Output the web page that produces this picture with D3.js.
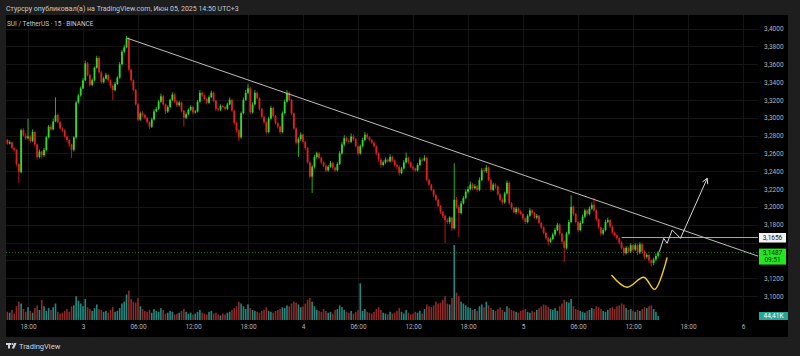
<!DOCTYPE html>
<html><head><meta charset="utf-8">
<script src="https://cdn.jsdelivr.net/npm/d3@7"></script>
<style>
html,body{margin:0;padding:0;background:#1e1e1e;}
svg{display:block;font-family:Roboto,"Liberation Sans",sans-serif;}
</style></head><body>
<svg id="c" width="800" height="356"></svg>
<script>
// ---- data (15-min candles, SUI/USDT, times in UTC+3 wall clock) ----
const firstBarTime = "2025-06-02T15:30:00Z";
const firstOpen = 3.2504;
const closes = [
3.2750,3.2710,3.2725,3.2660,3.2640,3.2480,3.2390,3.2860,3.2800,3.2770,
3.2790,3.2740,3.2840,3.2700,3.2560,3.2620,3.2580,3.2640,3.2780,3.2900,
3.2870,3.2960,3.3030,3.2950,3.2880,3.2860,3.2790,3.2750,3.2700,3.2640,
3.2780,3.3170,3.3250,3.3330,3.3420,3.3610,3.3480,3.3370,3.3420,3.3560,
3.3670,3.3510,3.3400,3.3440,3.3480,3.3420,3.3360,3.3310,3.3380,3.3450,
3.3600,3.3740,3.3790,3.3890,3.3540,3.3420,3.3310,3.3150,3.2980,3.3050,
3.3030,3.3000,3.2950,3.2900,3.2980,3.3070,3.3100,3.3180,3.3240,3.3150,
3.3070,3.3120,3.3200,3.3260,3.3180,3.3140,3.3170,3.3080,3.3000,3.3040,
3.3090,3.3120,3.3060,3.3070,3.3180,3.3280,3.3250,3.3210,3.3170,3.3230,
3.3280,3.3190,3.3100,3.3090,3.3130,3.3120,3.3100,3.3150,3.3200,3.3080,
3.2940,3.2860,3.2780,3.3050,3.3200,3.3280,3.3330,3.3060,3.3150,3.3280,
3.3220,3.3100,3.3010,3.2950,3.2840,3.2990,3.3110,3.3020,3.2940,3.2900,
3.2840,3.3050,3.3180,3.3280,3.3200,3.3050,3.2880,3.2720,3.2760,3.2810,
3.2730,3.2660,3.2500,3.2340,3.2450,3.2560,3.2600,3.2550,3.2500,3.2460,
3.2410,3.2450,3.2490,3.2440,3.2410,3.2480,3.2600,3.2700,3.2770,3.2740,
3.2730,3.2790,3.2760,3.2680,3.2600,3.2680,3.2750,3.2810,3.2780,3.2750,
3.2720,3.2680,3.2600,3.2530,3.2470,3.2500,3.2530,3.2510,3.2560,3.2520,
3.2470,3.2450,3.2380,3.2430,3.2500,3.2550,3.2500,3.2450,3.2430,3.2410,
3.2470,3.2530,3.2520,3.2550,3.2300,3.2250,3.2190,3.2130,3.2080,3.2010,
3.1940,3.1900,3.1850,3.1830,3.1880,3.1760,3.2080,3.2000,3.1930,3.2040,
3.2100,3.2170,3.2200,3.2250,3.2210,3.2230,3.2190,3.2300,3.2410,3.2400,
3.2440,3.2300,3.2190,3.2250,3.2230,3.2140,3.2080,3.2050,3.2150,3.2270,
3.2040,3.1990,3.1940,3.1980,3.1950,3.1920,3.1870,3.1830,3.1900,3.1960,
3.1930,3.1880,3.1900,3.1820,3.1770,3.1710,3.1650,3.1610,3.1640,3.1690,
3.1740,3.1800,3.1700,3.1610,3.1540,3.1700,3.1830,3.2000,3.1920,3.1830,
3.1740,3.1820,3.1890,3.1960,3.1920,3.1980,3.2020,3.1960,3.1860,3.1770,
3.1700,3.1740,3.1830,3.1850,3.1780,3.1710,3.1680,3.1650,3.1600,3.1540,
3.1480,3.1540,3.1500,3.1570,3.1520,3.1570,3.1490,3.1580,3.1500,3.1440,
3.1460,3.1400,3.1370,3.1410,3.1450,3.1487
];
// upper / lower wick length beyond the body, in units of 0.0001
const wickUp = [
10,14,20,8,12,6,10,18,22,25, 200,15,30,10,8,25,12,20,15,20,
25,30,200,15,10,12,8,10,15,10, 12,18,15,20,25,30,15,12,20,15,
25,20,15,20,25,15,10,12,20,15, 25,20,30,30,15,10,10,12,15,20,
25,15,10,12,20,25,18,20,30,15, 10,20,15,25,20,15,18,12,10,20,
15,20,15,18,20,30,15,12,15,20, 25,15,10,12,20,15,12,20,25,15,
10,12,10,20,25,30,50,20,25,30, 15,12,10,15,12,20,25,15,12,10,
12,20,25,30,15,10,12,15,20,25, 15,10,12,10,20,25,20,15,12,10,
15,20,25,15,12,20,25,30,35,20, 25,35,20,12,10,20,25,30,20,15,
12,10,12,10,15,20,25,15,30,15, 12,10,15,20,25,60,15,12,15,10,
20,25,15,30,12,15,10,12,10,12, 10,12,15,20,15,10,410,30,20,25,
20,25,30,35,20,25,15,30,25,30, 30,15,12,20,15,10,12,15,20,25,
15,12,10,20,15,12,10,12,20,25, 15,12,20,10,12,10,12,10,15,20,
25,20,15,10,12,20,25,130,15,12, 10,20,25,20,15,25,30,80,15,12,
10,20,25,30,15,12,10,12,10,12, 15,20,15,25,15,20,12,25,15,12,
20,12,10,20,25,15
];
const wickDown = [
15,12,10,15,20,25,120,15,12,20, 15,20,15,25,30,15,40,20,15,12,
15,12,10,15,12,20,15,25,30,90, 20,15,12,15,10,12,15,20,15,12,
10,15,20,15,12,20,25,110,15,12, 10,12,15,10,20,15,12,15,20,15,
20,15,20,25,15,12,10,15,12,15, 30,15,12,10,15,20,15,20,100,15,
12,15,20,15,12,10,15,12,20,15, 12,15,25,20,15,12,20,15,10,15,
20,25,40,15,12,10,15,20,15,12, 15,20,15,20,25,15,12,20,15,20,
25,15,12,10,15,20,15,20,160,20, 20,25,15,20,185,20,20,15,20,15,
20,15,12,20,15,12,10,15,20,15, 25,15,20,15,25,15,12,15,20,15,
12,15,20,25,30,15,20,15,12,15, 20,25,30,15,12,15,20,15,25,20,
15,12,15,10,15,12,15,20,15,12, 20,25,255,20,25,30,15,20,270,15,
12,15,20,15,25,15,20,15,12,15, 20,15,20,15,25,15,20,25,15,12,
15,20,15,25,20,15,20,25,15,12, 20,15,20,15,20,15,20,40,15,12,
15,12,20,25,160,20,15,12,20,15, 25,15,12,15,20,15,12,15,20,15,
25,20,15,12,15,20,15,20,25,20, 30,15,20,15,20,15,30,20,25,30,
20,30,40,25,15,20
];
// volume, thousands of SUI
const volumes = [
120,90,80,110,70,150,200,180,120,90, 140,100,80,130,160,110,220,150,100,130,
110,140,180,90,70,80,100,120,90,150, 160,260,210,180,150,230,140,120,100,130,
170,120,110,90,100,80,110,140,90,100, 130,180,200,280,320,230,200,190,240,150,
120,100,90,110,80,120,100,90,130,110, 70,80,100,90,60,70,80,100,120,90,
70,80,60,70,90,110,80,70,60,90, 100,70,80,60,50,70,60,80,90,110,
130,150,200,180,150,120,170,130,110,100, 90,80,100,110,140,100,90,80,100,110,
120,140,130,160,150,180,200,190,170,140, 150,180,220,240,200,150,110,100,90,120,
100,80,90,70,110,120,160,140,110,90, 80,100,70,90,110,400,100,120,90,80,
70,90,120,140,110,80,70,60,90,70, 80,100,130,90,70,110,80,60,70,90,
80,100,70,120,170,150,140,160,200,180, 190,220,260,180,170,240,820,300,260,200,
180,160,140,130,110,120,100,150,170,140, 200,160,130,110,100,120,140,110,90,150,
130,110,100,90,80,100,110,120,90,80, 100,90,110,130,150,170,160,140,120,110,
130,100,150,180,220,200,190,230,150,120, 110,100,90,80,100,110,130,120,150,140,
120,100,90,110,130,140,120,150,160,180, 170,130,110,120,100,90,110,100,120,140,
130,150,160,120,90,44.41
];
const gridPrices = [3.40,3.38,3.36,3.34,3.32,3.30,3.28,3.26,3.24,3.22,3.20,3.18,3.16,3.14,3.12,3.10];
// 3,1600 and 3,1400 are hidden behind the price labels
const priceTickLabels = [3.40,3.38,3.36,3.34,3.32,3.30,3.28,3.26,3.24,3.22,3.20,3.18,3.12,3.10];
const timeTicks = ["2025-06-02T18:00Z","2025-06-03T00:00Z","2025-06-03T06:00Z","2025-06-03T12:00Z","2025-06-03T18:00Z",
  "2025-06-04T00:00Z","2025-06-04T06:00Z","2025-06-04T12:00Z","2025-06-04T18:00Z","2025-06-05T00:00Z",
  "2025-06-05T06:00Z","2025-06-05T12:00Z","2025-06-05T18:00Z","2025-06-06T00:00Z"];
const timeTickLabels = ["18:00","3","06:00","12:00","18:00","4","06:00","12:00","18:00","5","06:00","12:00","18:00","6"];
const lastPrice = 3.1487, countdown = "09:51", lastVolume = "44,41K";
const levelPrice = 3.1656, levelStartBar = 269;
// drawings: [bar index, price]
const trendPts = [[53,3.3895],[274,3.1932]];
const wPts = [[264.6,3.1236],[271.4,3.1098],[278.7,3.1210],[283.4,3.1075],[288.9,3.1434]];
const arrowPts = [[285.5,3.1497],[287.4,3.1647],[288.9,3.1591],[291.1,3.1741],[294.7,3.1647],[306.4,3.2321]];
const headerText = "Стурсру опубликовал(а) на TradingView.com, Июн 05, 2025 14:50 UTC+3";
const titleText = "SUI / TetherUS · 15 · BINANCE";

// ---- layout ----
const svg = d3.select("#c");
const P = {l:6, r:758, t:15, b:320};
const t0 = new Date(firstBarTime).getTime(), step = 15*60*1000;
const barTime = i => new Date(t0 + i*step);
const x = d3.scaleUtc().domain([new Date("2025-06-02T18:00Z"), new Date("2025-06-05T18:00Z")]).range([28,688]);
const y = d3.scaleLinear().domain([3.10,3.40]).range([296,28.6]);
const yv = d3.scaleLinear().domain([0,820]).range([320,245]);
const fmt = v => d3.format(".4f")(v).replace(".",",");
const UP="#2cdc2c", DN="#e32020";

svg.append("rect").attr("width",800).attr("height",356).attr("fill","#1e1e1e");
svg.append("rect").attr("x",6).attr("y",15).attr("width",782).attr("height",322).attr("fill","#000");
svg.append("defs").append("clipPath").attr("id","pc").append("rect")
  .attr("x",P.l).attr("y",P.t).attr("width",P.r-P.l).attr("height",P.b-P.t);

// grid
const grid = svg.append("g").attr("stroke","#151515").attr("stroke-width",1);
grid.selectAll(".v").data(timeTicks).join("line")
  .attr("x1",d=>Math.round(x(new Date(d)))+0.5).attr("x2",d=>Math.round(x(new Date(d)))+0.5)
  .attr("y1",P.t).attr("y2",P.b);
grid.selectAll(".h").data(gridPrices).join("line")
  .attr("x1",P.l).attr("x2",P.r).attr("y1",d=>Math.round(y(d))+0.5).attr("y2",d=>Math.round(y(d))+0.5);

const candles = closes.map((c,i)=>{
  const o = i===0?firstOpen:closes[i-1];
  return {t:barTime(i), o, c, h:Math.max(o,c)+wickUp[i]/1e4, l:Math.min(o,c)-wickDown[i]/1e4, v:volumes[i]};
});

const plot = svg.append("g").attr("clip-path","url(#pc)");
// volume
plot.append("g").selectAll("rect").data(candles).join("rect")
  .attr("x",d=>x(d.t)-0.8).attr("width",1.6)
  .attr("y",d=>yv(d.v)).attr("height",d=>320-yv(d.v))
  .attr("fill",d=>d.c>=d.o?"#1f8a80":"#8e2a28");
// current price dotted line
plot.append("line").attr("x1",P.l).attr("x2",P.r).attr("y1",y(lastPrice)).attr("y2",y(lastPrice))
  .attr("stroke","#1d7a1d").attr("stroke-dasharray","1,2").attr("stroke-width",1);
// candles
const cg = plot.append("g");
cg.selectAll("line").data(candles).join("line")
  .attr("x1",d=>x(d.t)).attr("x2",d=>x(d.t)).attr("y1",d=>y(d.h)).attr("y2",d=>y(d.l))
  .attr("stroke",d=>d.c>=d.o?UP:DN).attr("stroke-width",0.8);
cg.selectAll("rect").data(candles).join("rect")
  .attr("x",d=>x(d.t)-0.9).attr("width",1.8)
  .attr("y",d=>y(Math.max(d.o,d.c))).attr("height",d=>Math.max(0.8,Math.abs(y(d.o)-y(d.c))))
  .attr("fill",d=>d.c>=d.o?UP:DN);

// horizontal level
plot.append("line").attr("x1",x(barTime(levelStartBar))).attr("x2",P.r)
  .attr("y1",y(levelPrice)).attr("y2",y(levelPrice)).attr("stroke","#a8a8a8").attr("stroke-width",1);
// trend line extended to right edge
const [a,b] = trendPts.map(p=>[x(barTime(p[0])), y(p[1])]);
const slope = (b[1]-a[1])/(b[0]-a[0]);
plot.append("line").attr("x1",a[0]).attr("y1",a[1]).attr("x2",P.r).attr("y2",a[1]+slope*(P.r-a[0]))
  .attr("stroke","#bdbdbd").attr("stroke-width",1);
// W drawing
const ln = d3.line().x(p=>x(barTime(p[0]))).y(p=>y(p[1]));
plot.append("path").attr("d",ln.curve(d3.curveCatmullRom)(wPts)).attr("fill","none")
  .attr("stroke","#f0d020").attr("stroke-width",1.4);
// arrow path
plot.append("path").attr("d",d3.line().x(p=>x(barTime(p[0]))).y(p=>y(p[1]))(arrowPts)).attr("fill","none")
  .attr("stroke","#d8d8d8").attr("stroke-width",1);
const e = arrowPts[arrowPts.length-1], s = arrowPts[arrowPts.length-2];
const ex=x(barTime(e[0])), ey=y(e[1]), sx=x(barTime(s[0])), sy=y(s[1]);
const ang = Math.atan2(ey-sy, ex-sx);
[0.5,-0.5].forEach(k=>{
  plot.append("line").attr("x1",ex).attr("y1",ey)
    .attr("x2",ex-6*Math.cos(ang+k)).attr("y2",ey-6*Math.sin(ang+k))
    .attr("stroke","#d8d8d8").attr("stroke-width",1);
});

// price axis
const ya = svg.append("g").attr("transform","translate(764,0)")
  .call(d3.axisRight(y).tickValues(priceTickLabels).tickFormat(fmt).tickSize(0).tickPadding(0));
ya.select(".domain").remove();
ya.selectAll("text").attr("fill","#b2b5be").attr("font-size",6.5).attr("font-family","Roboto");

// time axis
const xa = svg.append("g").attr("transform","translate(0,324)")
  .call(d3.axisBottom(x).tickValues(timeTicks.map(d=>new Date(d))).tickFormat((d,i)=>timeTickLabels[i]).tickSize(0).tickPadding(0));
xa.select(".domain").remove();
xa.selectAll("text").attr("fill","#b2b5be").attr("font-size",6.5).attr("font-family","Roboto");

// price labels
const ly = y(levelPrice);
svg.append("rect").attr("x",759).attr("y",ly-4.5).attr("width",27).attr("height",9.5).attr("fill","#f4f4f4");
svg.append("text").attr("x",772.5).attr("y",ly+2.3).attr("text-anchor","middle").attr("font-size",6.5).attr("fill","#131722").text(fmt(levelPrice));
const lp = y(lastPrice);
svg.append("rect").attr("x",759).attr("y",lp-4).attr("width",27).attr("height",16).attr("fill","#22e622");
svg.append("text").attr("x",772.5).attr("y",lp+2.5).attr("text-anchor","middle").attr("font-size",6.5).attr("fill","#0a2a0a").text(fmt(lastPrice));
svg.append("text").attr("x",772.5).attr("y",lp+9.5).attr("text-anchor","middle").attr("font-size",6.5).attr("fill","#0a2a0a").text(countdown);
svg.append("rect").attr("x",759).attr("y",312).attr("width",29).attr("height",8).attr("fill","#26a69a");
svg.append("text").attr("x",773.5).attr("y",318.3).attr("text-anchor","middle").attr("font-size",6.5).attr("fill","#fff").text(lastVolume);

// header, title, footer
svg.append("text").attr("x",6).attr("y",10.5).attr("font-size",7).attr("fill","#c8c8c8").text(headerText);
svg.append("text").attr("x",7).attr("y",26).attr("font-size",6.5).attr("fill","#c8cad0").text(titleText);
const logo = svg.append("g").attr("fill","#d1d4dc");
logo.append("rect").attr("x",6).attr("y",343).attr("width",5).attr("height",2);
logo.append("rect").attr("x",8).attr("y",343).attr("width",2).attr("height",5.5);
logo.append("circle").attr("cx",12.3).attr("cy",344).attr("r",1);
logo.append("path").attr("d","M14,343 L16.5,343 L14.2,348.5 L11.8,348.5 Z");
svg.append("text").attr("x",19).attr("y",349).attr("font-size",7.5).attr("fill","#d1d4dc").text("TradingView");
</script>
</body></html>
